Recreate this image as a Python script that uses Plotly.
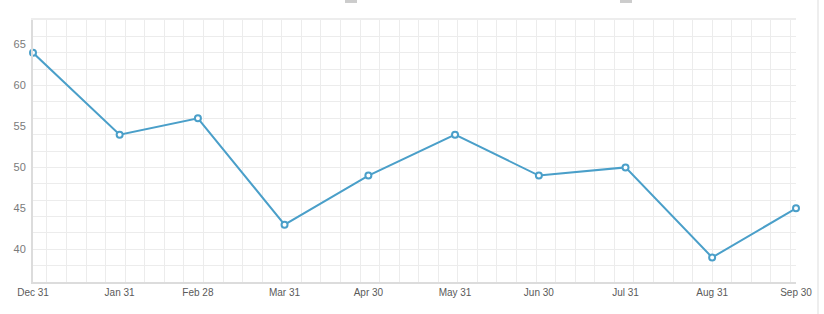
import plotly.graph_objects as go

dates = ["2014-12-31", "2015-01-31", "2015-02-28", "2015-03-31", "2015-04-30",
         "2015-05-31", "2015-06-30", "2015-07-31", "2015-08-31", "2015-09-30"]
tick_text = ["Dec 31", "Jan 31", "Feb 28", "Mar 31", "Apr 30",
             "May 31", "Jun 30", "Jul 31", "Aug 31", "Sep 30"]
values = [64, 54, 56, 43, 49, 54, 49, 50, 39, 45]
y_ticks = [40, 45, 50, 55, 60, 65]

line_color = "#4a9fc9"
grid_color = "#ececec"
axis_color = "#dcdcdc"
x_range = [dates[0], dates[-1]]
y_range = [36, 68]

fig = go.Figure()
fig.add_trace(go.Scatter(
    x=dates, y=values, mode="lines+markers",
    line=dict(color=line_color, width=2),
    marker=dict(symbol="circle", size=6, color="white",
                line=dict(color=line_color, width=2)),
    cliponaxis=False, showlegend=False, hoverinfo="x+y",
))
# helper (invisible) trace for grid axes
fig.add_trace(go.Scatter(x=[dates[0]], y=[50], xaxis="x2", yaxis="y2",
                         mode="markers", marker=dict(opacity=0),
                         showlegend=False, hoverinfo="skip"))

font = dict(family="Liberation Sans, Arial, sans-serif", size=10, color="#666")

fig.update_layout(
    width=824, height=314,
    margin=dict(l=33, r=28, t=20, b=32),
    paper_bgcolor="white", plot_bgcolor="white",
    font=font,
    xaxis=dict(type="date", range=x_range, tickvals=dates, ticktext=tick_text,
               showgrid=False, zeroline=False, showline=True,
               linecolor=axis_color, linewidth=2, ticks="",
               tickfont=dict(size=10, color="#5a5a5a")),
    yaxis=dict(range=y_range, tickvals=y_ticks, showgrid=False, zeroline=False,
               showline=True, linecolor=axis_color, linewidth=2, ticks="",
               ticklabelstandoff=3, tickfont=dict(size=11, color="#7a7a7a")),
    xaxis2=dict(type="date", range=x_range, overlaying="x", side="top",
                tick0="2015-01-05", dtick=7 * 86400000, showticklabels=False,
                showgrid=True, gridcolor=grid_color, gridwidth=1,
                showline=True, linecolor="#ededed", linewidth=2,
                zeroline=False, ticks=""),
    yaxis2=dict(range=y_range, overlaying="y", side="right", tick0=0, dtick=2,
                showticklabels=False, showgrid=True, gridcolor=grid_color,
                gridwidth=1, zeroline=False, showline=False, ticks=""),
    shapes=[
        dict(type="line", xref="paper", yref="paper",
             x0=(818 - 33) / 763, x1=(818 - 33) / 763, y0=-0.2, y1=1.1,
             line=dict(color="#dddddd", width=1)),
        dict(type="rect", xref="paper", yref="paper",
             x0=(345 - 33) / 763, x1=(357 - 33) / 763, y0=1.065, y1=1.12,
             fillcolor="#cccccc", line=dict(width=0)),
        dict(type="rect", xref="paper", yref="paper",
             x0=(620 - 33) / 763, x1=(632 - 33) / 763, y0=1.065, y1=1.12,
             fillcolor="#cccccc", line=dict(width=0)),
    ],
)

fig.write_html("out.html")
